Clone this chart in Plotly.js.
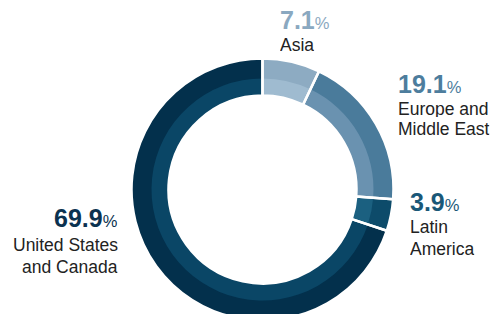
<!DOCTYPE html>
<html>
<head>
<meta charset="utf-8">
<script src="https://cdn.plot.ly/plotly-3.0.1.min.js"></script>
<style>html,body{margin:0;padding:0;background:#fff;overflow:hidden;}#chart{width:492px;height:322px;}</style>
</head>
<body>
<div id="chart"></div>
<script>
const categories = ["Asia", "Europe and Middle East", "Latin America", "United States and Canada"];
const values = [7.1, 19.1, 3.9, 69.9];
const nameLines = [["Asia"], ["Europe and", "Middle East"], ["Latin", "America"], ["United States", "and Canada"]];
const outerColors = ["#8dabc2", "#4a7b9b", "#0d4b6a", "#03304c"];
const innerColors = ["#9fbbd0", "#6a92b0", "#1b6080", "#0a4666"];
const numberColors = ["#8aa8c0", "#4d7d9d", "#1a5878", "#0b3250"];

// figure is slightly taller than the 314px window so the ring runs off the bottom edge
const W = 492, H = 322;
const cx = 262.5, cy = 189.5, rOuter = 131, rMid = 111, rInner = 94;

function dom(r) {
  return {
    x: [(cx - r) / W, (cx + r) / W],
    y: [(H - cy - r) / H, (H - cy + r) / H]
  };
}
const common = {
  type: "pie", values: values, labels: categories, sort: false,
  direction: "clockwise", rotation: 0, textinfo: "none",
  hoverinfo: "skip", showlegend: false
};
const traces = [
  Object.assign({}, common, {domain: dom(rOuter), hole: rInner / rOuter,
    marker: {colors: outerColors, line: {width: 0}}}),
  Object.assign({}, common, {domain: dom(rMid), hole: rInner / rMid,
    marker: {colors: innerColors, line: {width: 0}}}),
  Object.assign({}, common, {domain: dom(rOuter), hole: rInner / rOuter,
    marker: {colors: values.map(() => "rgba(0,0,0,0)"), line: {color: "#ffffff", width: 2.5}}})
];

// label placement (pixels): x, anchor, number centre y, name line centre ys
const labelPos = [
  [279, "left", 20, [45]],
  [397, "left", 84, [109, 129]],
  [409, "left", 202, [227, 248.5]],
  [119, "right", 218, [245, 266.5]]
];
const font = "Liberation Sans, Arial, Helvetica, sans-serif";
const annotations = [];
categories.forEach((c, i) => {
  const [px, anc, ny, ly] = labelPos[i];
  annotations.push({
    xref: "paper", yref: "paper", x: px / W, y: 1 - ny / H,
    xanchor: anc, yanchor: "middle", showarrow: false, borderpad: 0, height: 20,
    text: "<b>" + values[i].toFixed(1) + "</b><span style='font-size:16.5px'>%</span>",
    font: {family: font, size: 25, color: numberColors[i]}
  });
  nameLines[i].forEach((ln, j) => {
    annotations.push({
      xref: "paper", yref: "paper", x: px / W, y: 1 - ly[j] / H,
      xanchor: anc, yanchor: "middle", showarrow: false, borderpad: 0, height: 16,
      text: ln,
      font: {family: font, size: 17.5, color: "#222222"}
    });
  });
});

Plotly.newPlot("chart", traces, {
  width: W, height: H, margin: {l: 0, r: 0, t: 0, b: 0},
  paper_bgcolor: "#ffffff", plot_bgcolor: "#ffffff",
  annotations: annotations
}, {staticPlot: true, displayModeBar: false});
</script>
</body>
</html>
